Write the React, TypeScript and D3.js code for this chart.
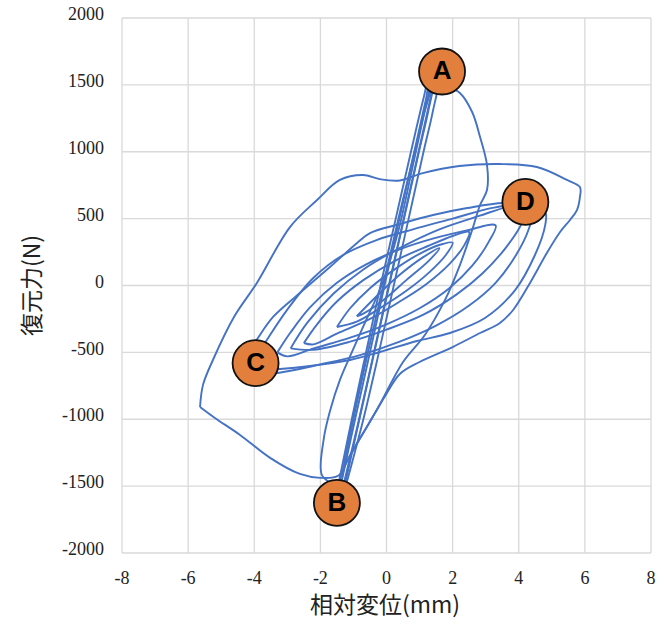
import React from "react";
import * as d3 from "d3";

const xTicks = [-8, -6, -4, -2, 0, 2, 4, 6, 8];
const yTicks = [-2000, -1500, -1000, -500, 0, 500, 1000, 1500, 2000];

const outerLoop: number[][] = [
  [-5.64, -908], [-5.55, -743], [-5.25, -557], [-4.6, -230], [-3.92, 19], [-2.92, 437],
  [-2.1, 639], [-1.41, 789], [-0.71, 826], [-0.2, 795], [0.4, 785], [1.1, 840],
  [2.2, 893], [3.43, 908], [4.55, 886], [5.46, 789], [5.85, 736], [5.85, 661],
  [5.76, 564], [5.55, 490], [5.25, 400], [4.85, 243], [4.34, 19], [3.83, -183],
  [3.43, -280], [2.83, -355], [2.0, -460], [1.0, -572], [0.41, -660], [-0.05, -830],
  [-0.65, -1080], [-1.1, -1267], [-1.45, -1420], [-2.0, -1438], [-2.62, -1409],
  [-3.52, -1289], [-4.43, -1117], [-5.19, -990], [-5.64, -908],
];

const aRightBranch: number[][] = [
  [1.38, 1536], [1.77, 1498], [2.22, 1439], [2.59, 1297], [2.83, 1110], [3.04, 900],
  [3.04, 714], [2.83, 602], [2.59, 415], [2.22, 153], [1.77, -108], [1.16, -370],
  [0.5, -572], [-0.26, -916], [-0.95, -1207], [-1.32, -1379], [-1.41, -1454],
];

const steepLoop1: number[][] = [
  [-1.38, -1490], [-0.95, -1000], [-0.5, -500], [-0.06, 0], [0.39, 500], [0.84, 1000],
  [1.2, 1400], [1.33, 1560], [1.42, 1540], [1.26, 1300], [0.98, 1000], [0.53, 500],
  [0.08, 0], [-0.37, -500], [-0.82, -1000], [-1.25, -1480],
];
const steepLoop2: number[][] = [
  [-1.3, -1490], [-0.83, -1000], [-0.38, -500], [0.07, 0], [0.52, 500], [0.97, 1000],
  [1.33, 1400], [1.45, 1550], [1.55, 1520], [1.4, 1300], [1.12, 1000], [0.67, 500],
  [0.22, 0], [-0.23, -500], [-0.7, -1000], [-1.2, -1470],
];
const steepLoop3: number[][] = [
  [-1.45, -1480], [-1.05, -1000], [-0.62, -500], [-0.18, 0], [0.28, 500], [0.74, 1000],
  [1.12, 1400], [1.28, 1540], [1.36, 1520], [1.1, 1250], [0.8, 950], [0.36, 500],
  [-0.1, 0], [-0.56, -500], [-1.0, -1000], [-1.35, -1440],
];
const bLeftBranch: number[][] = [
  [-1.55, -1490], [-1.95, -1420], [-1.9, -1150], [-1.7, -930], [-1.4, -700], [-1.05, -500],
  [-0.6, -250], [-0.15, 0], [0.35, 400], [0.8, 900], [1.15, 1300], [1.35, 1520],
];

const cdLoop1: number[][] = [
  [-4.13, -482], [-3.89, -392], [-3.43, -235], [-2.62, -56], [-1.71, 138], [-0.89, 318],
  [-0.5, 392], [0.41, 460], [1.41, 527], [2.44, 579], [3.53, 617], [4.34, 602],
  [4.8, 549], [4.8, 452], [4.49, 228], [3.89, -34], [2.98, -243], [1.92, -355],
  [0.92, -415], [-0.2, -497], [-1.1, -557], [-2.31, -602], [-3.22, -624], [-3.98, -632],
  [-4.19, -557], [-4.13, -482],
];
const cdLoop2: number[][] = [
  [-4.0, -560], [-3.6, -400], [-3.0, -180], [-2.2, 60], [-1.3, 230], [-0.3, 340],
  [0.8, 420], [2.0, 500], [3.2, 580], [4.0, 600], [4.4, 560], [4.3, 420], [3.9, 220],
  [3.3, 20], [2.5, -150], [1.5, -300], [0.4, -420], [-0.8, -520], [-2.0, -590],
  [-3.2, -650], [-3.9, -660], [-4.0, -560],
];
const cdLoop3: number[][] = [
  [-2.9, -470], [-2.4, -280], [-1.6, -60], [-0.7, 120], [0.4, 280], [1.6, 420],
  [2.8, 520], [3.7, 590], [4.2, 600], [4.1, 470], [3.6, 280], [2.9, 90], [2.1, -70],
  [1.1, -220], [0.0, -330], [-1.1, -420], [-2.2, -480], [-2.9, -470],
];
const cdLoop4: number[][] = [
  [-3.3, -500], [-2.9, -350], [-2.3, -160], [-1.5, 20], [-0.6, 160], [0.4, 270],
  [1.4, 350], [2.4, 410], [3.3, 450], [3.1, 330], [2.6, 150], [1.9, -20], [1.0, -170],
  [0.0, -290], [-1.1, -390], [-2.2, -470], [-3.0, -530], [-3.3, -500],
];
const cdLoop5: number[][] = [
  [-2.5, -430], [-2.1, -290], [-1.5, -120], [-0.7, 40], [0.3, 190], [1.3, 300],
  [2.0, 370], [2.5, 400], [2.35, 300], [1.9, 160], [1.2, 10], [0.4, -120], [-0.5, -250],
  [-1.5, -360], [-2.2, -440], [-2.5, -430],
];
const cdLoop6: number[][] = [
  [-1.5, -310], [-1.1, -170], [-0.5, -20], [0.3, 130], [1.1, 250], [1.7, 310], [2.0, 320],
  [1.8, 230], [1.3, 100], [0.6, -40], [-0.2, -170], [-0.9, -270], [-1.5, -310],
];
const cdLoop7: number[][] = [
  [-0.9, -230], [-0.3, -80], [0.4, 80], [1.1, 210], [1.6, 280], [1.3, 190], [0.6, 40],
  [-0.1, -110], [-0.7, -210], [-0.9, -230],
];

const seriesList = [
  outerLoop, cdLoop1, cdLoop2, cdLoop3, cdLoop4, cdLoop5, cdLoop6, cdLoop7,
  aRightBranch, steepLoop1, steepLoop2, steepLoop3, bLeftBranch,
];

const markerNames = ["A", "B", "C", "D"];
const markerX = [1.68, -1.5, -3.96, 4.2];
const markerY = [1600, -1625, -580, 625];

export default function App() {
  const W = 661;
  const H = 634;
  const x = d3.scaleLinear().domain([-8, 8]).range([122, 651]);
  const y = d3.scaleLinear().domain([-2000, 2000]).range([553, 18]);
  const line = d3
    .line<number[]>()
    .x((d) => x(d[0]))
    .y((d) => y(d[1]))
    .curve(d3.curveCatmullRom.alpha(0.5));

  const tickFont = "Liberation Serif, Times New Roman, serif";
  const cjkFont = "Noto Sans CJK JP, sans-serif";

  return (
    <svg
      width={W}
      height={H}
      style={{ position: "absolute", left: 0, top: 0, background: "#fff" }}
    >
      <rect x={0} y={0} width={W} height={H} fill="#fff" />
      <g>
        {xTicks.map((t) => (
          <line key={"gx" + t} x1={x(t)} x2={x(t)} y1={y(-2000)} y2={y(2000)} stroke="#d9d9d9" strokeWidth={1.3} />
        ))}
        {yTicks.map((t) => (
          <line key={"gy" + t} x1={x(-8)} x2={x(8)} y1={y(t)} y2={y(t)} stroke="#d9d9d9" strokeWidth={1.3} />
        ))}
      </g>
      <g fill="none" stroke="#4472C4" strokeWidth={1.9} strokeLinejoin="round">
        {seriesList.map((s, i) => (
          <path key={i} d={line(s) || ""} />
        ))}
      </g>
      <g>
        {yTicks.map((t) => (
          <text key={"ty" + t} x={104} y={y(t) - 2} textAnchor="end" dominantBaseline="middle" fontFamily={tickFont} fontSize={18} fill="#222">
            {t}
          </text>
        ))}
        {xTicks.map((t) => (
          <text key={"tx" + t} x={x(t)} y={580} textAnchor="middle" dominantBaseline="middle" fontFamily={tickFont} fontSize={18} fill="#222">
            {t}
          </text>
        ))}
      </g>
      <text x={385} y={607} textAnchor="middle" dominantBaseline="middle" fontFamily={cjkFont} fontSize={23} fill="#222">
        相対変位(mm)
      </text>
      <text
        transform={`translate(34, ${y(0)}) rotate(-90)`}
        textAnchor="middle"
        dominantBaseline="middle"
        fontFamily={cjkFont}
        fontSize={23}
        fill="#222"
      >
        復元力(N)
      </text>
      <g>
        {markerNames.map((n, i) => (
          <g key={n}>
            <circle cx={x(markerX[i])} cy={y(markerY[i])} r={23} fill="#E27F3C" stroke="#111" strokeWidth={1.8} />
            <text
              x={x(markerX[i])}
              y={y(markerY[i]) + 1}
              textAnchor="middle"
              dominantBaseline="middle"
              fontFamily="Liberation Sans, Arial, sans-serif"
              fontWeight="bold"
              fontSize={26}
              fill="#000"
            >
              {n}
            </text>
          </g>
        ))}
      </g>
    </svg>
  );
}
